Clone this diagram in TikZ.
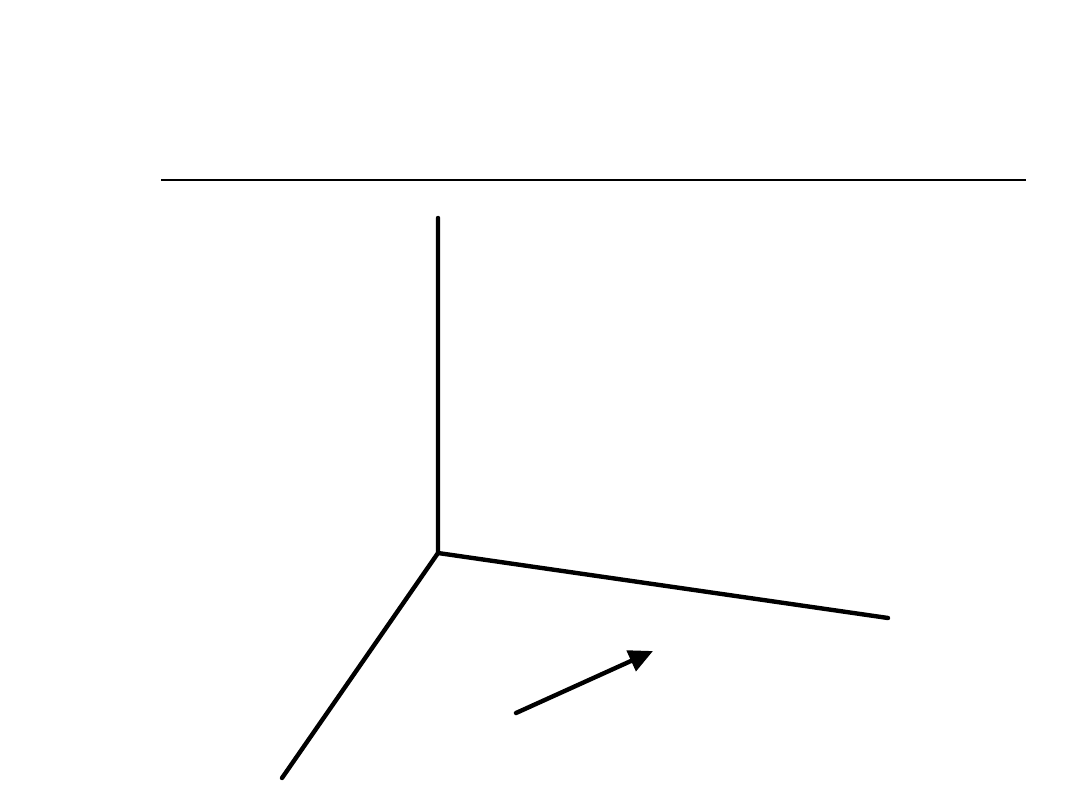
\documentclass[tikz,border=0pt]{standalone}
\usetikzlibrary{arrows.meta}
\begin{document}
\begin{tikzpicture}[x=.01cm,y=-.01cm]
\useasboundingbox[fill=white](0,0)rectangle(1080,810);
\draw[line width=.6pt](161,180)--(1026,180);
\begin{scope}[line width=1.25pt,line cap=round]
\coordinate(o)at(438,553);
\coordinate(z)at(438,218);
\coordinate(x)at(888,618);
\coordinate(y)at(282,778);
\draw(z)--(o)--(x);
\draw(o)--(y);
\coordinate(a)at(516,713);
\coordinate(b)at(653,651);
\draw[-{Triangle[length=2.4mm,width=2.2mm]}](a)--(b);
\end{scope}
\end{tikzpicture}
\end{document}
